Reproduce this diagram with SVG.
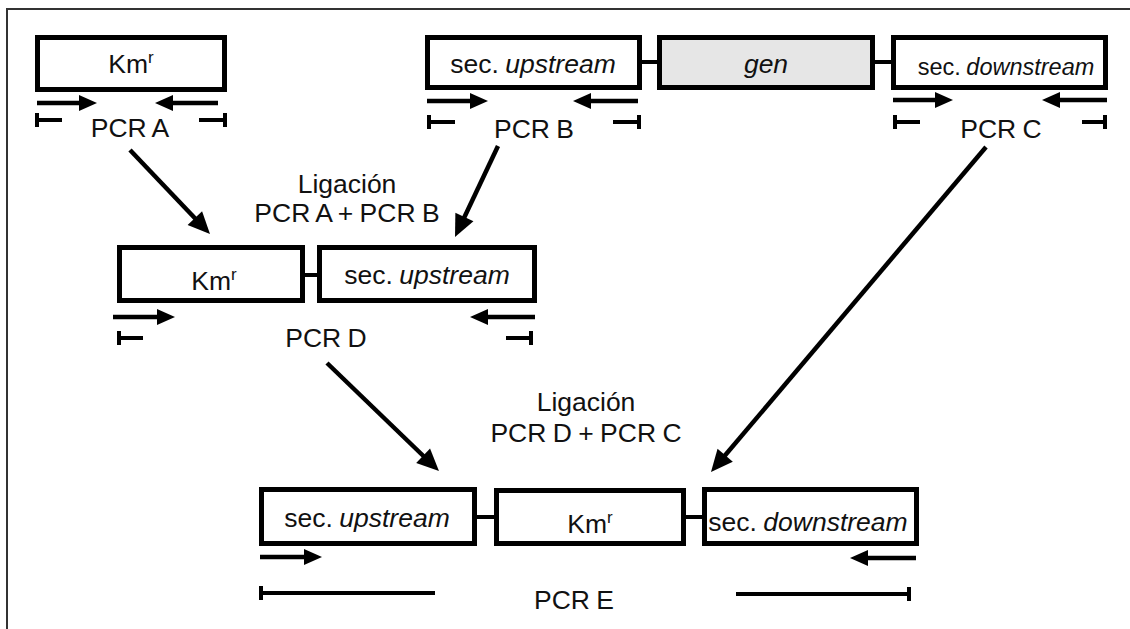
<svg xmlns="http://www.w3.org/2000/svg" width="1130" height="629" viewBox="0 0 1130 629">
<style>
.box{fill:#fff;stroke:#000;stroke-width:5}
.gen{fill:#e6e6e6;stroke:#000;stroke-width:5}
.link{stroke:#000;stroke-width:4;fill:none}
.t{font-family:"Liberation Sans",Arial,sans-serif;font-size:26.5px;fill:#111;text-anchor:middle;word-spacing:-1px}
.sm{font-size:23.5px}
.i{font-style:italic}
.sup{font-size:17px}
.sa{stroke:#000;stroke-width:4.5;fill:none;marker-end:url(#sh)}
.bar{stroke:#000;stroke-width:4;fill:none}
.da{stroke:#000;stroke-width:4.5;fill:none;marker-end:url(#dh)}
.frame{stroke:#333;stroke-width:2;fill:none}
</style>
<defs>
<marker id="sh" markerUnits="userSpaceOnUse" markerWidth="18" markerHeight="16" refX="4" refY="8" orient="auto" overflow="visible"><path d="M0,0 L18,8 L0,16 z" fill="#000"/></marker>
<marker id="dh" markerUnits="userSpaceOnUse" markerWidth="22" markerHeight="20" refX="4" refY="10" orient="auto" overflow="visible"><path d="M0,0 L22,10 L0,20 z" fill="#000"/></marker>
</defs>
<path class="frame" d="M1130,9 H7 V629"/>

<g id="connectors">
<line class="da" x1="130" y1="150" x2="197.6" y2="221"/>
<line class="da" x1="498" y1="146" x2="462.7" y2="220.7"/>
<line class="da" x1="986" y1="147" x2="722.6" y2="458.3"/>
<line class="da" x1="327" y1="363" x2="426" y2="458.5"/>
</g>

<g id="pcrA">
<rect class="box" x="37.5" y="37.5" width="187" height="52"/>
<text class="t" x="131" y="73">Km<tspan class="sup" dy="-10">r</tspan></text>
<line class="sa" x1="37" y1="103" x2="83" y2="103"/>
<line class="sa" x1="218" y1="103" x2="169" y2="103"/>
<path class="bar" d="M37,113 V127 M37,120 H62 M225,113 V127 M225,120 H199"/>
<text class="t" x="130" y="137">PCR A</text>
</g>

<g id="pcrB">
<rect class="box" x="427.5" y="37.5" width="212" height="50"/>
<text class="t" x="533" y="73">sec. <tspan class="i">upstream</tspan></text>
<line class="sa" x1="427" y1="101" x2="474" y2="101"/>
<line class="sa" x1="638" y1="101" x2="587" y2="101"/>
<path class="bar" d="M429,115 V129 M429,122 H455 M639,115 V129 M639,122 H613"/>
<text class="t" x="534" y="138">PCR B</text>
</g>

<g id="gen">
<line class="link" x1="642" y1="62" x2="657" y2="62"/>
<rect class="gen" x="659.5" y="37.5" width="213" height="50"/>
<text class="t i" x="766" y="73">gen</text>
<line class="link" x1="875" y1="62" x2="891" y2="62"/>
</g>

<g id="pcrC">
<rect class="box" x="893.5" y="37.5" width="212" height="50"/>
<text class="t sm" x="1006" y="75">sec. <tspan class="i">downstream</tspan></text>
<line class="sa" x1="893" y1="100" x2="939" y2="100"/>
<line class="sa" x1="1107" y1="100" x2="1056" y2="100"/>
<path class="bar" d="M895,115 V129 M895,122 H920 M1105,115 V129 M1105,122 H1082"/>
<text class="t" x="1001" y="138">PCR C</text>
</g>

<g id="ligAB">
<text class="t" x="347" y="193">Ligación</text>
<text class="t" x="347" y="222">PCR A + PCR B</text>
</g>

<g id="pcrD">
<rect class="box" x="119.5" y="247.5" width="183" height="53"/>
<text class="t" x="214" y="290">Km<tspan class="sup" dy="-10">r</tspan></text>
<line class="link" x1="305" y1="275" x2="317" y2="275"/>
<rect class="box" x="319.5" y="247.5" width="215" height="53"/>
<text class="t" x="427" y="284">sec. <tspan class="i">upstream</tspan></text>
<line class="sa" x1="113" y1="317" x2="161" y2="317"/>
<line class="sa" x1="535" y1="317" x2="484" y2="317"/>
<path class="bar" d="M119,331 V345 M119,338 H143 M531,331 V345 M531,338 H506"/>
<text class="t" x="326" y="347">PCR D</text>
</g>

<g id="ligDC">
<text class="t" x="586" y="411">Ligación</text>
<text class="t" x="586" y="442">PCR D + PCR C</text>
</g>

<g id="pcrE">
<rect class="box" x="261.5" y="489.5" width="213" height="54"/>
<text class="t" x="367" y="527">sec. <tspan class="i">upstream</tspan></text>
<line class="link" x1="477" y1="517" x2="494" y2="517"/>
<rect class="box" x="496.5" y="490.5" width="187" height="53"/>
<text class="t" x="590" y="533">Km<tspan class="sup" dy="-10">r</tspan></text>
<line class="link" x1="686" y1="517" x2="702" y2="517"/>
<rect class="box" x="704.5" y="489.5" width="212" height="54"/>
<text class="t" x="808" y="531">sec. <tspan class="i">downstream</tspan></text>
<line class="sa" x1="260" y1="557" x2="308" y2="557"/>
<line class="sa" x1="916" y1="558" x2="864" y2="558"/>
<path class="bar" d="M261,586 V600 M261,593 H435 M909,587 V601 M909,594 H736"/>
<text class="t" x="574" y="609">PCR E</text>
</g>
</svg>
